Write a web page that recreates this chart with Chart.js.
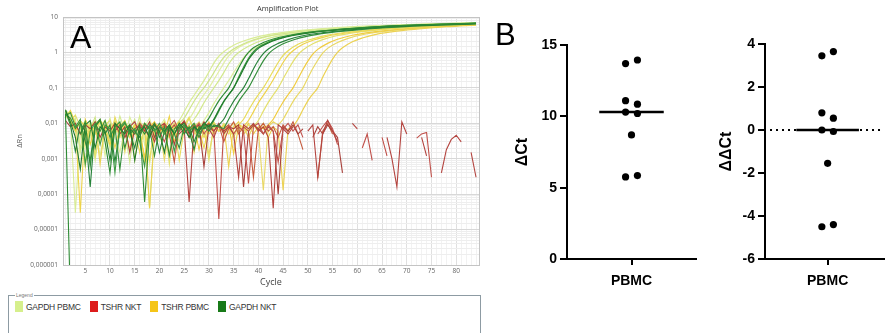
<!DOCTYPE html>
<html>
<head>
<meta charset="utf-8">
<script src="https://cdn.jsdelivr.net/npm/chart.js@4.4.1/dist/chart.umd.min.js"></script>
<style>
body{margin:0;width:888px;height:333px;background:#fff;position:relative;overflow:hidden;font-family:"Liberation Sans",Arial,sans-serif}
canvas{position:absolute;top:0}
.lbl{position:absolute;white-space:nowrap;line-height:1;color:#000}
#legendBox{position:absolute;left:8px;top:295px;width:471px;height:60px;border:1px solid #8d9ba3}
#legendBox .cap{position:absolute;left:6px;top:-4px;font-size:5px;color:#777;background:#fff;padding:0 1px}
#legendRow{position:absolute;left:6px;top:5px;display:flex;align-items:center;font-size:8.5px;letter-spacing:-0.25px;color:#333}
#legendRow .sw{width:8px;height:11px;margin-right:3px}
#legendRow .tx{margin-right:9px}
</style>
</head>
<body>
<canvas id="amp" width="490" height="292" style="left:0"></canvas>
<canvas id="dct" width="210" height="333" style="left:490px"></canvas>
<canvas id="ddct" width="188" height="333" style="left:700px"></canvas>
<div class="lbl" style="left:70px;top:21px;font-size:32px">A</div>
<div class="lbl" style="left:495px;top:19px;font-size:31px">B</div>
<div class="lbl" style="left:257px;top:5px;font-size:7.5px;color:#333;font-family:'Open Sans',sans-serif">Amplification Plot</div>
<div id="legendBox"><span class="cap">Legend</span><div id="legendRow"></div></div>
<script>
// ---- Panel A: amplification plot (ΔRn per cycle) ----
const seriesNames = ['GAPDH PBMC', 'TSHR NKT', 'TSHR PBMC', 'GAPDH NKT'];
const ampYTickLabels = ['0,000001', '0,00001', '0,0001', '0,001', '0,01', '0,1', '1', '10'];

// noise part: one value per cycle starting at cycle 1 (null = not plotted)
const gapdhPbmcNoise = [
  [.024,.016,.00003,.007,.012,.005,.0009,.009,.006,.014,.004,.0015,.007,.009,.005,.016,.0025,.007,.011,.006,.009,.005,.008],
  [.02,.012,.008,.002,.01,.007,.015,.003,.008,.002,.006,.01,.004,.007,.013,.003,.006,.00004,.005,.009,.007,.004,.008,.01],
  [.017,.022,.009,.005,.0009,.008,.012,.006,.009,.002,.01,.007,.005,.009,.0025,.006,.008,.014,.005,.003,.008,.006,.01,.007,.009],
  [.019,.009,.014,.0015,.006,.011,.008,.0012,.007,.009,.005,.016,.006,.0008,.008,.005,.01,.007,.004,.009,.006,.0015,.008,.012,.006,.009],
  [.021,.013,.006,.01,.002,.008,.005,.011,.0012,.007,.009,.006,.004,.015,.007,.005,.009,.0007,.006,.008,.013,.005,.007,.003,.009,.006,.01,.008]
];
// amplification part: [cycle, ΔRn]
const gapdhPbmcRise = [
  [[23,.008],[24,.012],[25,.021],[26,.038],[27,.062],[28,.1],[29,.16],[30,.28],[31,.5],[32,.78],[33,1.05],[35,1.6],[37,2.1],[40,2.8],[44,3.5],[48,4.1],[54,4.8],[63,5.6],[73,6.3],[84,6.9]],
  [[24,.01],[25,.014],[26,.024],[27,.042],[28,.068],[29,.1],[30,.16],[31,.27],[32,.46],[33,.72],[34,1.0],[36,1.5],[38,2.0],[41,2.7],[45,3.4],[49,4.0],[55,4.7],[64,5.5],[74,6.2],[84,6.8]],
  [[25,.009],[26,.013],[27,.022],[28,.04],[29,.065],[30,.1],[31,.17],[32,.29],[33,.5],[34,.8],[35,1.1],[37,1.65],[39,2.15],[42,2.85],[46,3.5],[50,4.1],[56,4.8],[65,5.6],[75,6.3],[84,6.8]],
  [[26,.009],[27,.013],[28,.021],[29,.038],[30,.063],[31,.1],[32,.16],[33,.27],[34,.47],[35,.74],[36,1.0],[38,1.5],[40,2.0],[43,2.7],[47,3.4],[51,4.0],[57,4.7],[66,5.5],[76,6.2],[84,6.7]],
  [[28,.008],[29,.012],[30,.02],[31,.036],[32,.06],[33,.1],[34,.16],[35,.27],[36,.45],[37,.7],[38,.98],[40,1.5],[42,2.0],[45,2.7],[49,3.4],[53,4.0],[59,4.7],[68,5.5],[77,6.1],[84,6.6]]
];

const gapdhNktNoise = [
  [.019,.0000001,null,.005,.011,.0006,.009,.013,.003,.0004,.008,.011,.002,.007,.005,.009,.00006,.006,.01,.004,.008,.0012,.007,.009,.005,.008,.003,.007,.009],
  [.024,.011,.004,.0005,.009,.012,.002,.008,.006,.0009,.01,.007,.005,.009,.0009,.006,.008,.004,.009,.006,.0015,.008,.005,.01,.007,.004,.008,.006,.01,.008],
  [.016,.02,.008,.013,.0007,.006,.01,.0025,.009,.007,.0004,.008,.011,.005,.007,.003,.0006,.008,.006,.01,.005,.008,.0016,.007,.009,.006,.008,.004,.009,.007],
  [.022,.009,.0016,.01,.006,.00016,.008,.012,.005,.009,.0008,.007,.01,.006,.002,.008,.005,.009,.007,.0015,.006,.009,.005,.008,.01,.006,.0018,.008,.007,.009,.008,.009],
  [.018,.014,.007,.011,.003,.0009,.009,.006,.012,.004,.008,.0005,.007,.009,.006,.004,.01,.007,.0012,.008,.006,.009,.005,.002,.008,.007,.01,.005,.008,.006,.009,.008,.007]
];
const gapdhNktRise = [
  [[29,.009],[30,.014],[31,.025],[32,.043],[33,.066],[34,.1],[35,.19],[36,.36],[37,.65],[38,1.0],[39,1.35],[41,1.9],[43,2.4],[46,3.0],[50,3.7],[55,4.3],[61,5.0],[70,5.8],[78,6.3],[84,6.7]],
  [[30,.008],[31,.013],[32,.024],[33,.042],[34,.065],[35,.1],[36,.18],[37,.34],[38,.62],[39,.95],[40,1.3],[42,1.85],[44,2.35],[47,3.0],[51,3.7],[56,4.3],[62,5.0],[71,5.8],[79,6.3],[84,6.6]],
  [[30,.007],[31,.012],[32,.022],[33,.04],[34,.064],[35,.1],[36,.2],[37,.38],[38,.68],[39,1.05],[40,1.4],[42,1.95],[44,2.45],[47,3.1],[51,3.8],[56,4.4],[62,5.1],[71,5.9],[79,6.4],[84,6.7]],
  [[32,.009],[33,.013],[34,.024],[35,.042],[36,.066],[37,.1],[38,.18],[39,.34],[40,.6],[41,.92],[42,1.25],[44,1.8],[46,2.3],[49,2.95],[53,3.6],[58,4.25],[64,4.95],[73,5.75],[80,6.25],[84,6.5]],
  [[33,.007],[34,.013],[35,.023],[36,.041],[37,.065],[38,.1],[39,.18],[40,.33],[41,.58],[42,.9],[43,1.2],[45,1.75],[47,2.25],[50,2.9],[54,3.55],[59,4.2],[65,4.9],[74,5.7],[80,6.1],[84,6.4]]
];

const tshrPbmcNoise = [
  [.02,.013,.007,.011,.0006,.009,.005,.012,.008,.003,.015,.006,.009,.004,.007,.0015,.008,.0009,.009,.006,.011,.005,.008,.0009,.007,.014,.006,.009,.004,.008,.011,.006,.009,.005,.008,.009],
  [.015,.023,.01,.00003,.013,.006,.008,.011,.007,.009,.002,.008,.012,.005,.009,.007,.0008,.006,.01,.008,.005,.016,.003,.008,.011,.006,.009,.007,.002,.008,.01,.006,.009,.007,.005,.009,.008],
  [.021,.012,.017,.008,.004,.01,.0012,.007,.009,.012,.005,.008,.0015,.009,.006,.011,.007,.004,.009,.006,.01,.0007,.008,.006,.009,.015,.005,.008,.007,.0009,.009,.006,.01,.007,.004,.008,.006,.009,.008],
  [.018,.011,.006,.012,.008,.0025,.009,.013,.006,.0025,.008,.01,.007,.004,.009,.006,.0011,.008,.011,.005,.009,.007,.003,.008,.01,.006,.009,.0018,.007,.011,.005,.008,.006,.009,.0014,.008,.006,.01,.005,.008,.007,.009],
  [.016,.02,.009,.005,.011,.007,.0012,.008,.012,.006,.009,.004,.01,.007,.0009,.008,.006,.011,.005,.008,.0009,.007,.01,.006,.009,.004,.008,.011,.006,.0013,.008,.009,.005,.007,.01,.006,.008,.004,.009,.006,.00013,.008,.011,.009],
  [.019,.012,.007,.01,.003,.008,.011,.0007,.009,.006,.012,.005,.008,.0018,.009,.007,.01,.00004,.006,.009,.007,.004,.008,.011,.006,.009,.0015,.007,.01,.005,.008,.006,.009,.0006,.008,.011,.005,.007,.009,.006,.01,.004,.008,.006,.00013,.007,.008]
];
const tshrPbmcRise = [
  [[36,.009],[37,.013],[38,.023],[39,.04],[40,.064],[41,.1],[42,.17],[43,.3],[44,.52],[45,.82],[46,1.12],[48,1.7],[50,2.2],[53,2.9],[57,3.6],[62,4.3],[68,5.0],[76,5.8],[84,6.4]],
  [[37,.008],[38,.012],[39,.021],[40,.038],[41,.062],[42,.1],[43,.17],[44,.3],[45,.52],[46,.82],[47,1.12],[49,1.7],[51,2.2],[54,2.9],[58,3.6],[63,4.3],[69,5.0],[77,5.8],[84,6.3]],
  [[39,.008],[40,.012],[41,.022],[42,.039],[43,.063],[44,.1],[45,.18],[46,.32],[47,.55],[48,.86],[49,1.17],[51,1.75],[53,2.3],[56,3.0],[60,3.7],[65,4.4],[71,5.1],[78,5.8],[84,6.3]],
  [[42,.009],[43,.013],[44,.023],[45,.04],[46,.064],[47,.1],[48,.18],[49,.33],[50,.57],[51,.9],[52,1.22],[54,1.8],[56,2.35],[59,3.05],[63,3.75],[68,4.45],[74,5.15],[80,5.7],[84,6.1]],
  [[44,.009],[45,.013],[46,.023],[47,.041],[48,.065],[49,.1],[50,.19],[51,.35],[52,.6],[53,.95],[54,1.3],[56,1.9],[58,2.45],[61,3.15],[65,3.85],[70,4.55],[76,5.25],[81,5.75],[84,6.0]],
  [[47,.008],[48,.013],[49,.024],[50,.043],[51,.067],[52,.1],[53,.2],[54,.37],[55,.65],[56,1.0],[57,1.35],[59,2.0],[61,2.55],[64,3.3],[68,4.0],[73,4.7],[78,5.3],[84,5.9]]
];

// TSHR in NKT never amplifies: noise only
const tshrNktNoise = [
  [null,null,null,null,null,null,null,null,null,null,
   .006,.009,.004,.008,.011,.005,.009,.007,.003,.008,
   .01,.006,.009,.005,.007,.00006,.008,.006,.011,.007,
   .004,.009,.006,.008,.005,.0003,.009,.007,.01,.006,
   .008,.004,.00004,.009,.007,.005,.008,null,null,.006,
   .009,.0003,.005,.012,.006,.003,null,null,.01,.007,
   null,null,null,null,null,.004,.001,.00016,.011,.005,
   null,null,.004,.0012,null,null,.0004,.0018,.0035,.0046,
   .003,null,.0015,.0003],
  [null,null,null,null,null,null,null,null,null,null,
   null,null,null,.008,.005,.01,.007,.004,.009,.006,
   .003,.008,.012,.006,.009,.004,.007,.01,.005,.008,
   .006,.00002,.007,.009,.005,.008,.006,.0002,.008,.01,
   .005,.009,.006,.0008,.007,.01,.006,.009,.004,null,
   null,.005,.008,.012,.007,.0025,null,null,null,null,
   .002,.005,.0009,null,.004,.0012,null,null,null,null,
   null,.0038,.005,.0055,.0003],
  [.012,.008,.01,.005,.009,.007,.011,.004,.008,.006,
   .01,.005,.008,.0015,.007,.009,.006,.011,.004,.008,
   .006,.009,.0025,.008,.011,.005,.007,.009,.0006,.008,
   .006,.01,.005,.008,.007,.009,.00016,.006,.009,.007,
   .005,.008,.006,.0001,.008,.006,.009,.005,.007,null,
   .004,.008,.005,.009,.006,.004,.0004],
  [null,null,null,null,null,null,null,null,null,null,
   null,null,null,null,null,null,null,.007,.01,.006,
   .009,.005,.0008,.008,.012,.006,.009,.004,.008,.01,
   .006,.009,.003,.007,.011,.005,.008,.006,.0003,.007,
   .01,.006,.008,.004,.009,.006,.011,.005,.0018,null,
   null,.00028,.006,.01,.005]
];

// ---- Panel B: ΔCt and ΔΔCt, PBMC ----
const xCategories = ['PBMC'];
const dctValues = [13.7, 13.95, 11.1, 10.85, 10.3, 10.2, 8.7, 5.75, 5.85];
const ddctValues = [3.45, 3.65, 0.8, 0.55, 0.0, -0.07, -1.55, -4.5, -4.4];
const dotSide = [-1, 1, -1, 1, -1, 1, 0, -1, 1]; // left / right / centre in the column

// styles
const paleColors = ['#d9ec96', '#cfe58a', '#e2efa6', '#d3e98e', '#dcee9c'];
const darkColors = ['#2e8b35', '#1f7a2b', '#3c9a42', '#27823a', '#358f3c'];
const yellowColors = ['#e8dc5a', '#eed34a', '#e4e06e', '#f0cc40', '#e9d865', '#ecd252'];
const redColors = ['#b4443f', '#c0504a', '#a8403a', '#c65a3c'];
const swatchColors = ['#d6ef8c', '#dd1c1c', '#f5c518', '#187a18'];

function isPow10(v) {
  const l = Math.log10(v);
  return Math.abs(l - Math.round(l)) < 1e-6;
}

const ampDatasets = [];
function addCurve(noise, rise, color) {
  ampDatasets.push({
    data: noise.map((v, i) => ({x: i + 1, y: v})),
    borderColor: color, borderWidth: 1.1, pointRadius: 0, tension: 0
  });
  if (rise) {
    ampDatasets.push({
      data: rise.map(p => ({x: p[0], y: p[1]})),
      borderColor: color, borderWidth: 1.2, pointRadius: 0, cubicInterpolationMode: 'monotone'
    });
  }
}
// first added is drawn on top
gapdhNktNoise.forEach((n, i) => addCurve(n, gapdhNktRise[i], darkColors[i]));
tshrNktNoise.forEach((n, i) => addCurve(n, null, redColors[i]));
tshrPbmcNoise.forEach((n, i) => addCurve(n, tshrPbmcRise[i], yellowColors[i]));
gapdhPbmcNoise.forEach((n, i) => addCurve(n, gapdhPbmcRise[i], paleColors[i]));

const framePlugin = {
  id: 'frame',
  afterDraw(chart) {
    const a = chart.chartArea, c = chart.ctx;
    c.save();
    c.strokeStyle = '#c4c4c4';
    c.lineWidth = 1;
    c.strokeRect(a.left + 0.5, a.top + 0.5, a.right - a.left, a.bottom - a.top);
    c.restore();
  }
};

const smallFont = {family: "'Open Sans', sans-serif", size: 6.5};

new Chart(document.getElementById('amp'), {
  type: 'line',
  data: {datasets: ampDatasets},
  options: {
    responsive: false,
    animation: false,
    layout: {padding: {top: 17, right: 11, bottom: 0, left: 0}},
    plugins: {legend: {display: false}, tooltip: {enabled: false}},
    scales: {
      x: {
        type: 'linear', min: 0.5, max: 84.6,
        ticks: {
          stepSize: 1, maxTicksLimit: 100, includeBounds: false, autoSkip: false, maxRotation: 0,
          padding: 2, color: '#666', font: smallFont,
          callback: v => (v % 5 === 0 ? v : '')
        },
        grid: {
          drawTicks: false,
          color: ctx => (ctx.tick && ctx.tick.value % 5 === 0 ? '#e0e0e0' : '#f2f2f2')
        },
        border: {color: '#b0b0b0'},
        title: {display: true, text: 'Cycle', color: '#444',
                font: {family: "'Open Sans', sans-serif", size: 9}, padding: {top: 0, bottom: 4}},
        afterFit: s => { s.height = 27; }
      },
      y: {
        type: 'logarithmic', min: 0.000001, max: 10,
        ticks: {
          autoSkip: false, padding: 5, color: '#666', font: smallFont,
          callback: v => (isPow10(v) ? ampYTickLabels[Math.round(Math.log10(v)) + 6] : '')
        },
        grid: {
          drawTicks: false,
          color: ctx => (ctx.tick && isPow10(ctx.tick.value) ? '#d8d8d8' : '#eeeeee')
        },
        border: {color: '#b0b0b0'},
        title: {display: true, text: 'ΔRn', color: '#555',
                font: {family: "'Open Sans', sans-serif", size: 7.5}, padding: {top: 15, bottom: 0}},
        afterFit: s => { s.width = 63; }
      }
    }
  },
  plugins: [framePlugin]
});

// legend row
const row = document.getElementById('legendRow');
seriesNames.forEach((name, i) => {
  const sw = document.createElement('span');
  sw.className = 'sw';
  sw.style.background = swatchColors[i];
  const tx = document.createElement('span');
  tx.className = 'tx';
  tx.textContent = name;
  row.appendChild(sw);
  row.appendChild(tx);
});

// ---- dot plots ----
function median(arr) {
  const s = arr.slice().sort((a, b) => a - b);
  const m = Math.floor(s.length / 2);
  return s.length % 2 ? s[m] : (s[m - 1] + s[m]) / 2;
}

const boldFont = size => ({family: "'Liberation Sans', Arial, sans-serif", size: size, weight: 'bold'});

function dotPlot(id, values, opts) {
  const med = median(values);
  const jitter = 0.092;
  const datasets = [
    {
      type: 'scatter',
      data: values.map((v, i) => ({x: 1 + dotSide[i] * jitter, y: v})),
      pointRadius: 3.6, pointBackgroundColor: '#000', pointBorderWidth: 0
    },
    {
      type: 'line',
      data: [{x: 0.5, y: med}, {x: 1.5, y: med}],
      borderColor: '#000', borderWidth: 2.5, pointRadius: 0
    }
  ];
  if (opts.zeroLine) {
    datasets.push({
      type: 'line',
      data: [{x: 0.08, y: 0}, {x: opts.xMax, y: 0}],
      borderColor: '#000', borderWidth: 2, borderDash: [2, 4], pointRadius: 0
    });
  }
  new Chart(document.getElementById(id), {
    type: 'scatter',
    data: {datasets: datasets},
    options: {
      responsive: false,
      animation: false,
      layout: {padding: {top: opts.padTop, right: opts.padRight, bottom: 0, left: 0}},
      plugins: {legend: {display: false}, tooltip: {enabled: false}},
      scales: {
        x: {
          type: 'linear', min: 0, max: opts.xMax,
          afterBuildTicks: s => { s.ticks = xCategories.map((c, i) => ({value: i + 1})); },
          ticks: {autoSkip: false, maxRotation: 0, padding: 8, color: '#000', font: boldFont(14),
                  callback: v => xCategories[v - 1]},
          grid: {drawOnChartArea: false, tickLength: 6, color: '#000', lineWidth: 2},
          border: {color: '#000', width: 2},
          afterFit: s => { s.height = 74; }
        },
        y: {
          min: opts.yMin, max: opts.yMax,
          ticks: {stepSize: opts.yStep, padding: 3, color: '#000', font: boldFont(14)},
          grid: {drawOnChartArea: false, tickLength: 7, color: '#000', lineWidth: 2},
          border: {color: '#000', width: 2},
          title: {display: true, text: opts.title, color: '#000', font: boldFont(16),
                  padding: {top: opts.titlePad, bottom: 0}},
          afterFit: s => { s.width = opts.axisW; }
        }
      }
    }
  });
}

dotPlot('dct', dctValues, {yMin: 0, yMax: 15, yStep: 5, title: 'ΔCt', titlePad: 23,
  xMax: 2, padTop: 45, padRight: 2, axisW: 77, zeroLine: false});
dotPlot('ddct', ddctValues, {yMin: -6, yMax: 4, yStep: 2, title: 'ΔΔCt', titlePad: 17,
  xMax: 1.9, padTop: 44, padRight: 0, axisW: 65, zeroLine: true});
</script>
</body>
</html>
